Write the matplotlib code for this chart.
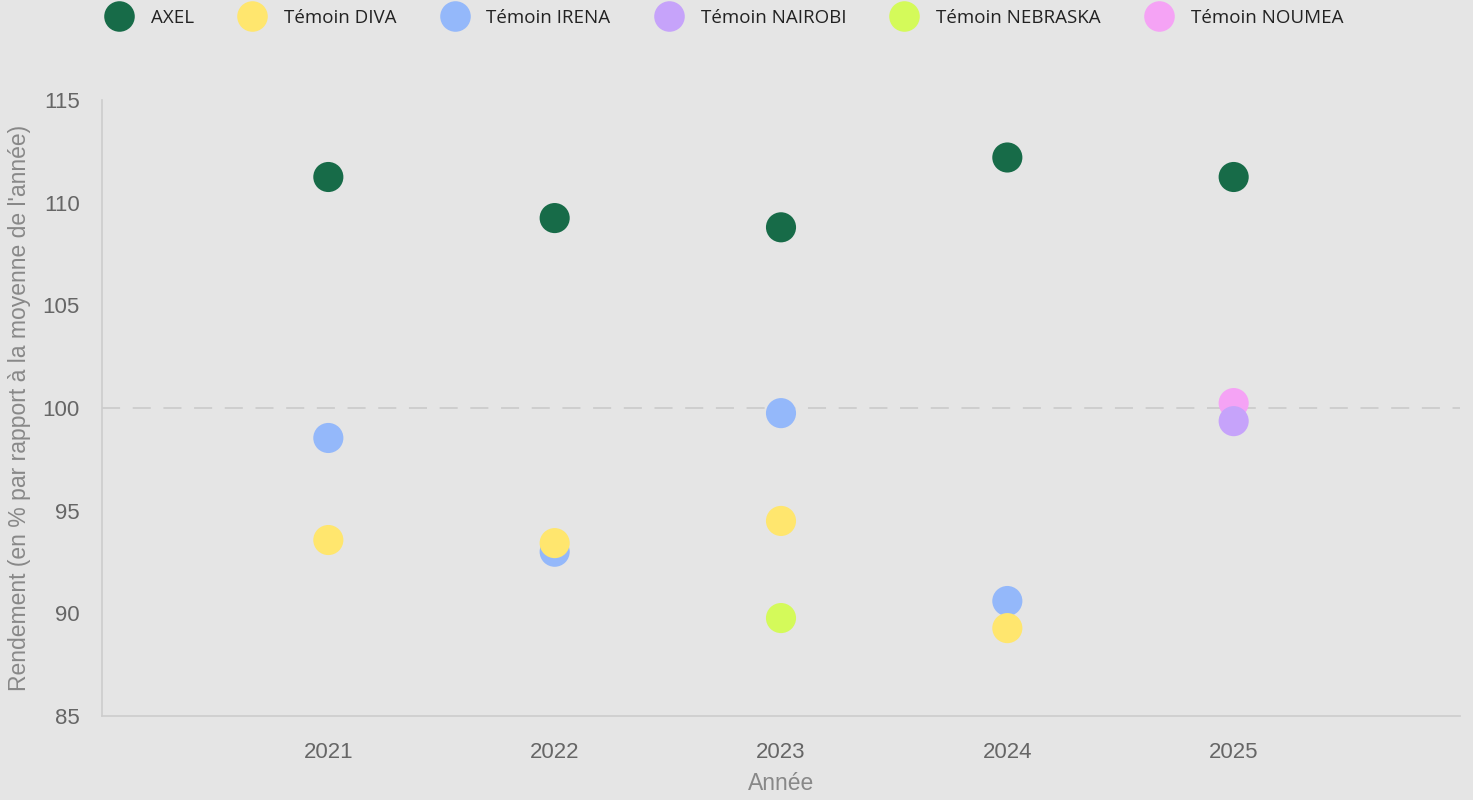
import matplotlib.pyplot as plt
from matplotlib.lines import Line2D

# données
series = ["AXEL", "Témoin DIVA", "Témoin IRENA", "Témoin NAIROBI",
          "Témoin NEBRASKA", "Témoin NOUMEA"]
colors = ["#176b48", "#ffe66e", "#94b8fa", "#c6a3fa", "#d4fa5a", "#f5a3f5"]

axel_years = [2021, 2022, 2023, 2024, 2025]
axel_vals = [111.25, 109.25, 108.8, 112.2, 111.25]
diva_years = [2021, 2022, 2023, 2024]
diva_vals = [93.57, 93.42, 94.5, 89.28]
irena_years = [2021, 2022, 2023, 2024]
irena_vals = [98.54, 93.0, 99.75, 90.6]
nairobi_years = [2025]
nairobi_vals = [99.36]
nebraska_years = [2023]
nebraska_vals = [89.77]
noumea_years = [2025]
noumea_vals = [100.24]

data = [(axel_years, axel_vals), (diva_years, diva_vals),
        (irena_years, irena_vals), (nairobi_years, nairobi_vals),
        (nebraska_years, nebraska_vals), (noumea_years, noumea_vals)]

bg = "#e5e5e5"
fig = plt.figure(figsize=(14.73, 8), dpi=100, facecolor=bg)
ax = fig.add_axes([102 / 1473, 1 - 716 / 800, 1358 / 1473, 616 / 800])
ax.set_facecolor(bg)

n = len(series)
for i, (name, col, (xs, ys)) in enumerate(zip(series, colors, data)):
    # les premières séries sont dessinées au-dessus
    ax.scatter(xs, ys, s=470, color=col, edgecolors="none", zorder=10 + n - i)

ax.axhline(100, color="#cccccc", lw=1.3, dashes=(10, 7), zorder=1)

ax.set_xlim(2020, 2026)
ax.set_ylim(85, 115)
ax.set_xticks([2021, 2022, 2023, 2024, 2025])
ax.set_yticks([85, 90, 95, 100, 105, 110, 115])

for s in ["top", "right"]:
    ax.spines[s].set_visible(False)
for s in ["left", "bottom"]:
    ax.spines[s].set_color("#cccccc")
    ax.spines[s].set_linewidth(1.2)

ax.tick_params(length=0, labelsize=16, labelcolor="#666666")
ax.tick_params(axis="x", pad=19)
ax.tick_params(axis="y", pad=16)
for lab in ax.get_xticklabels() + ax.get_yticklabels():
    lab.set_fontfamily("Liberation Sans")

ax.set_xlabel("Année", fontsize=16.5, color="#888888", family="Liberation Sans", labelpad=6)
ax.set_ylabel("Rendement (en % par rapport à la moyenne de l'année)", fontsize=16.5,
              color="#888888", family="Liberation Sans", labelpad=8)

handles = [Line2D([], [], marker="o", ls="none", markersize=22, color=c, markeredgewidth=0)
           for c in colors]
fig.legend(handles, series, loc="center left", bbox_to_anchor=(104 / 1473, 1 - 18 / 800),
           ncol=6, frameon=False, prop={"family": "Open Sans", "size": 13.5},
           handletextpad=0.9, columnspacing=2.3, handlelength=1.6,
           labelcolor="#222222", borderaxespad=0, borderpad=0)

fig.savefig("out.png", dpi=100, facecolor=bg)
